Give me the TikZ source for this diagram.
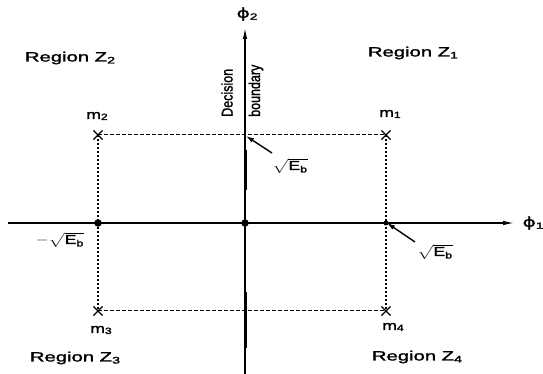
\documentclass[tikz,border=0pt]{standalone}
\usepackage{fontspec}
\usepackage{amsmath}
\setmainfont{Liberation Sans}[FakeBold=1.2]
\newfontfamily\lblfont{Liberation Sans}[FakeBold=1.6]
\newfontfamily\phifont{DejaVu Sans}[FakeBold=1.2]
\usetikzlibrary{arrows.meta,shapes.misc}
\begin{document}
\begin{tikzpicture}[x=1pt,y=1pt,
  lbl/.style={font=\lblfont\fontsize{13.5}{15}\selectfont, xscale=1.5, inner sep=0pt},
  sml/.style={font=\lblfont\fontsize{13}{15}\selectfont, xscale=1.35, inner sep=0pt},
  rot/.style={font=\lblfont\fontsize{12.5}{15}\selectfont, xscale=1.25, inner sep=0pt},
  axisline/.style={line width=1.2pt},
  axtip/.style={-{Latex[length=11pt,width=4.5pt]}},
  boxline/.style={line width=1pt, dash pattern=on 4pt off 2pt},
  boxvert/.style={line width=1.5pt, dash pattern=on 2.5pt off 1.5pt},
  heavy/.style={line width=3pt},
  xmark/.style={cross out, draw, line width=1.1pt, minimum size=8pt, inner sep=0pt},
  pointer/.style={line width=1.4pt, -{Latex[length=8pt,width=5pt]}},
  dotmark/.style={circle, fill, inner sep=0pt, minimum size=7.5pt}]
\useasboundingbox (0,0) rectangle (543,374);
% axes
\coordinate (Ybot) at (245,0);
\coordinate (Ytop) at (245,346);
\coordinate (Xl) at (8,151);
\coordinate (Xr) at (514,151);
\coordinate (O) at (245,151);
\draw[axisline,axtip] (Ybot) -- (Ytop);
\draw[axisline,axtip] (Xl) -- (Xr);
\node[lbl] (phi2) at (247,360) {{\phifont ϕ}\raisebox{-2pt}{\fontsize{9}{10}\selectfont 2}};
\node[lbl] (phi1) at (533,151) {{\phifont ϕ}\raisebox{-2pt}{\fontsize{9}{10}\selectfont 1}};
% signal points
\coordinate (m1) at (386,239);
\coordinate (m2) at (98,239);
\coordinate (m3) at (98,63);
\coordinate (m4) at (386,63);
\draw[boxline] (m2) -- (m1);
\draw[boxline] (m3) -- (m4);
\draw[boxvert] (m2) -- (m3);
\draw[boxvert] (m1) -- (m4);
\node[xmark] (x1) at (m1) {};
\node[xmark] (x2) at (m2) {};
\node[xmark] (x3) at (m3) {};
\node[xmark] (x4) at (m4) {};
\node[sml] (lm1) at (390,260) {m\raisebox{-1pt}{\fontsize{9}{10}\selectfont 1}};
\node[sml] (lm2) at (97,258) {m\raisebox{-1pt}{\fontsize{9}{10}\selectfont 2}};
\node[sml] (lm3) at (101,44) {m\raisebox{-1pt}{\fontsize{9}{10}\selectfont 3}};
\node[sml] (lm4) at (393,47) {m\raisebox{-1pt}{\fontsize{9}{10}\selectfont 4}};
% heavy segments
\coordinate (va) at (245,224); \coordinate (vb) at (245,184);
\coordinate (vc) at (245,82); \coordinate (vd) at (245,26);
\coordinate (ha) at (118,151); \coordinate (hb) at (170,151);
\coordinate (hc) at (290,151); \coordinate (hd) at (358,151);
\draw[heavy] (va) -- (vb);
\draw[heavy] (vc) -- (vd);
\draw[line width=2.5pt] (ha) -- (hb);
\draw[line width=2.5pt] (hc) -- (hd);
% dots
\node[dotmark] (d0) at (O) {};
\node[dotmark] (d1) at (98,151) {};
\node[circle, fill, inner sep=0pt, minimum size=5pt] (d2) at (386,151) {};
% decision boundary text
\node[rot, rotate=90, anchor=west] (dec) at (227,257) {Decision};
\node[rot, rotate=90, anchor=west] (bnd) at (256,257) {boundary};
% pointers
\coordinate (ptop) at (246,238);
\coordinate (pright) at (387,151);
\node[sml] (e1) at (290,208) {$\sqrt{\text{E}_{\text{b}}}$};
\node[sml] (e2) at (435,122) {$\sqrt{\text{E}_{\text{b}}}$};
\node[sml] (e3) at (60,134) {$-\sqrt{\text{E}_{\text{b}}}$};
\coordinate (s1) at (272,221);
\coordinate (s2) at (415,132);
\draw[pointer] (s1) -- (ptop);
\draw[pointer] (s2) -- (pright);
% region labels
\node[lbl] (z2) at (70,316) {Region Z\raisebox{-2pt}{\fontsize{9.5}{10}\selectfont 2}};
\node[lbl] (z1) at (413,321) {Region Z\raisebox{-2pt}{\fontsize{9.5}{10}\selectfont 1}};
\node[lbl] (z3) at (75,16) {Region Z\raisebox{-2pt}{\fontsize{9.5}{10}\selectfont 3}};
\node[lbl] (z4) at (417,17) {Region Z\raisebox{-2pt}{\fontsize{9.5}{10}\selectfont 4}};
\end{tikzpicture}
\end{document}
